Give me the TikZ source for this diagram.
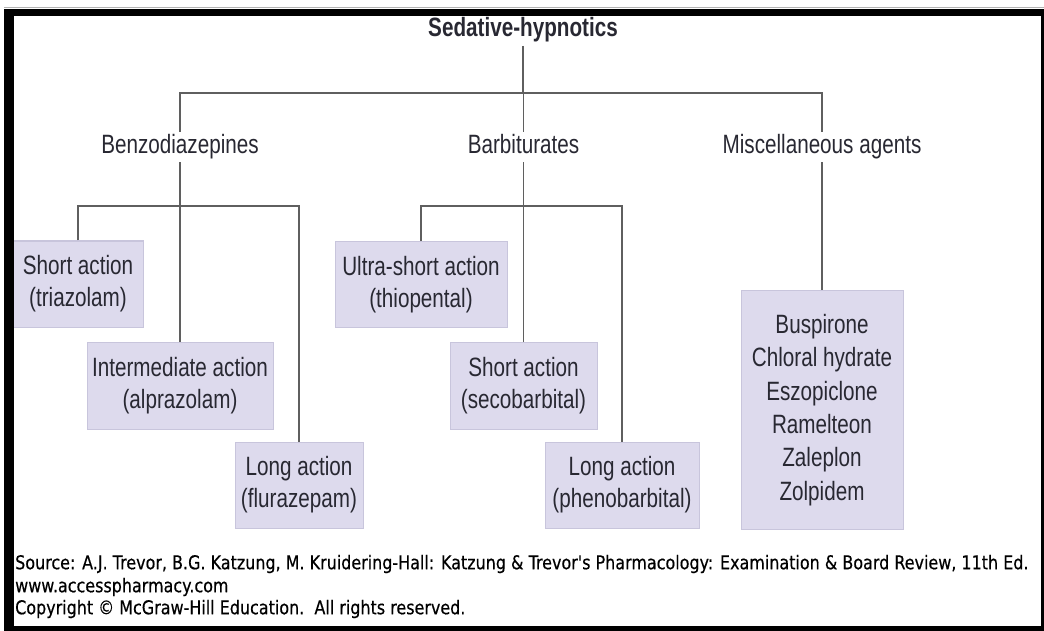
\documentclass[tikz,border=0pt]{standalone}
\usepackage{fontspec}
\setmainfont{Liberation Sans}[FakeStretch=0.78]
\newfontfamily\footfont{DejaVu Sans}[FakeStretch=0.84, FakeBold=0.4]
\usetikzlibrary{positioning}

\definecolor{boxfill}{RGB}{221,218,237}
\definecolor{boxline}{RGB}{200,197,220}
\definecolor{linkgray}{RGB}{95,95,95}
\definecolor{txtgray}{RGB}{40,40,50}

\begin{document}
\begin{tikzpicture}[
  x=1pt, y=-1pt,
  font=\fontsize{26.5}{32}\selectfont,
  box/.style={draw=boxline, fill=boxfill, line width=1pt, minimum height=86pt, align=center, text=txtgray, inner sep=0pt},
  grouplabel/.style={text=txtgray, fill=white, inner sep=2pt, text height=20pt, text depth=6pt},
  link/.style={draw=linkgray, line width=1.5pt},
  foot/.style={anchor=west, font=\footfont\fontsize{19}{21}\selectfont, inner sep=0pt, text=black}
]
\useasboundingbox (0,0) rectangle (1044,631);
\fill[white] (0,0) rectangle (1044,631);

% Sedative-hypnotics
\node[font=\fontsize{26.5}{32}\selectfont\bfseries, text=txtgray] (sed) at (523,30) {Sedative-hypnotics};

% Drug classes
\node[grouplabel] (benzo) at (180,147) {Benzodiazepines};
\node[grouplabel] (barb) at (523.5,147) {Barbiturates};
\node[grouplabel] (misc) at (822,147) {Miscellaneous agents};

% Benzodiazepines
\node[box, minimum width=130pt] (bzshort) at (78,284) {Short action\\(triazolam)};
\node[box, minimum width=186pt, minimum height=87pt] (bzinter) at (180,385.5) {Intermediate action\\(alprazolam)};
\node[box, minimum width=128pt] (bzlong) at (299,485) {Long action\\(flurazepam)};

% Barbiturates
\node[box, minimum width=172pt] (bbultra) at (421,284.5) {Ultra-short action\\(thiopental)};
\node[box, minimum width=147pt, minimum height=87pt] (bbshort) at (523.5,385.5) {Short action\\(secobarbital)};
\node[box, minimum width=154pt] (bblong) at (622,485) {Long action\\(phenobarbital)};

% Miscellaneous agents
\node[box, minimum width=162pt, minimum height=239pt, font=\fontsize{26.5}{33.4}\selectfont] (msdrugs) at (822,410) {Buspirone\\Chloral hydrate\\Eszopiclone\\Ramelteon\\Zaleplon\\Zolpidem};

% Connectors
\coordinate (top) at (523,93);
\coordinate (bzbar) at (180,206);
\coordinate (bbbar) at (523.5,206);
\draw[link] (sed) -- (sed |- top);
\draw[link] (benzo.north) |- (top) -| (misc.north);
\draw[link] (barb.north) -- (barb.north |- top);
\draw[link] (bzshort.north) |- (bzbar) -| (bzlong.north);
\draw[link] (benzo.south) -- (bzinter.north);
\draw[link] (bbultra.north) |- (bbbar) -| (bblong.north);
\draw[link] (barb.south) -- (bbshort.north);
\draw[link] (misc.south) -- (msdrugs.north);

% Source lines
\node[foot] (src) at (15,564) {Source: A.J. Trevor, B.G. Katzung, M. Kruidering-Hall: Katzung \& Trevor's Pharmacology: Examination \& Board Review, 11th Ed.};
\node[foot] (www) at (15,587) {www.accesspharmacy.com};
\node[foot] (copy) at (15,609) {Copyright © McGraw-Hill Education.\ \ All rights reserved.};

% Frame
\draw[gray!60, line width=1pt] (4,8) -- (1044,8);
\fill[black] (4,9) rectangle (14,631);
\fill[black] (4,9) rectangle (1044,16);
\fill[black] (1041,9) rectangle (1044,631);
\fill[black] (4,626) rectangle (1044,631);
\end{tikzpicture}
\end{document}
